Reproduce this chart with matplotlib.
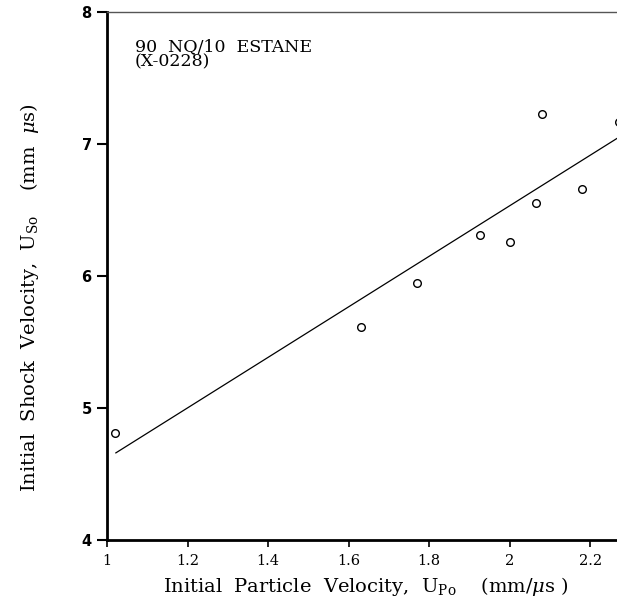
import matplotlib
matplotlib.use("Agg")
import matplotlib.pyplot as plt

# Data
up_obs = [1.02, 1.63, 1.77, 1.925, 2.00, 2.065, 2.08, 2.18, 2.27]
us_obs = [4.81, 5.61, 5.95, 6.31, 6.26, 6.55, 7.23, 6.66, 7.17]
fit_x = [1.022, 2.27]
fit_y = [4.66, 7.05]
x_ticks = [1, 1.2, 1.4, 1.6, 1.8, 2, 2.2]
x_ticklabels = ["1", "1.2", "1.4", "1.6", "1.8", "2", "2.2"]
y_ticks = [4, 5, 6, 7, 8]
y_ticklabels = ["4", "5", "6", "7", "8"]

plt.rcParams["mathtext.fontset"] = "dejavuserif"

fig = plt.figure(figsize=(6.17, 6.06), dpi=100)
ax = fig.add_axes([107/617, 66/606, 510/617, 528/606])

ax.plot(fit_x, fit_y, color="black", lw=0.9)
ax.plot(up_obs, us_obs, linestyle="none", marker="o", markersize=5.5,
        markerfacecolor="white", markeredgecolor="black", markeredgewidth=1.0,
        clip_on=True)

ax.set_xlim(1, 2.266)
ax.set_ylim(4, 8)
ax.set_xticks(x_ticks)
ax.set_xticklabels(x_ticklabels, fontfamily="DejaVu Serif", fontsize=10.5)
ax.set_yticks(y_ticks)
ax.set_yticklabels(y_ticklabels, fontfamily="DejaVu Sans", fontweight="bold", fontsize=10.5)
ax.tick_params(axis="y", direction="out", length=7, width=1.5, pad=4)
ax.tick_params(axis="x", direction="out", length=5, width=1.2, pad=5)

for s in ["left", "bottom"]:
    ax.spines[s].set_linewidth(2.0)
ax.spines["top"].set_linewidth(1.0)
ax.spines["top"].set_color("#555555")
ax.spines["right"].set_visible(False)

ax.text(135/617, 1 - 38/606, "90  NQ/10  ESTANE\n(X-0228)", transform=fig.transFigure,
        fontfamily="DejaVu Serif", fontsize=12.5, va="top", ha="left", linespacing=0.85)

fig.text(30/617, 1 - 298/606,
         "Initial  Shock  Velocity,  U$_{\\mathrm{So}}$    (mm  $\\mu$s)",
         rotation=90, ha="center", va="center", fontfamily="DejaVu Serif", fontsize=14)
fig.text(366/617, 1 - 586/606,
         "Initial  Particle  Velocity,  U$_{\\mathrm{Po}}$    (mm/$\\mu$s )",
         ha="center", va="center", fontfamily="DejaVu Serif", fontsize=14)

fig.savefig("out.png", dpi=100)
